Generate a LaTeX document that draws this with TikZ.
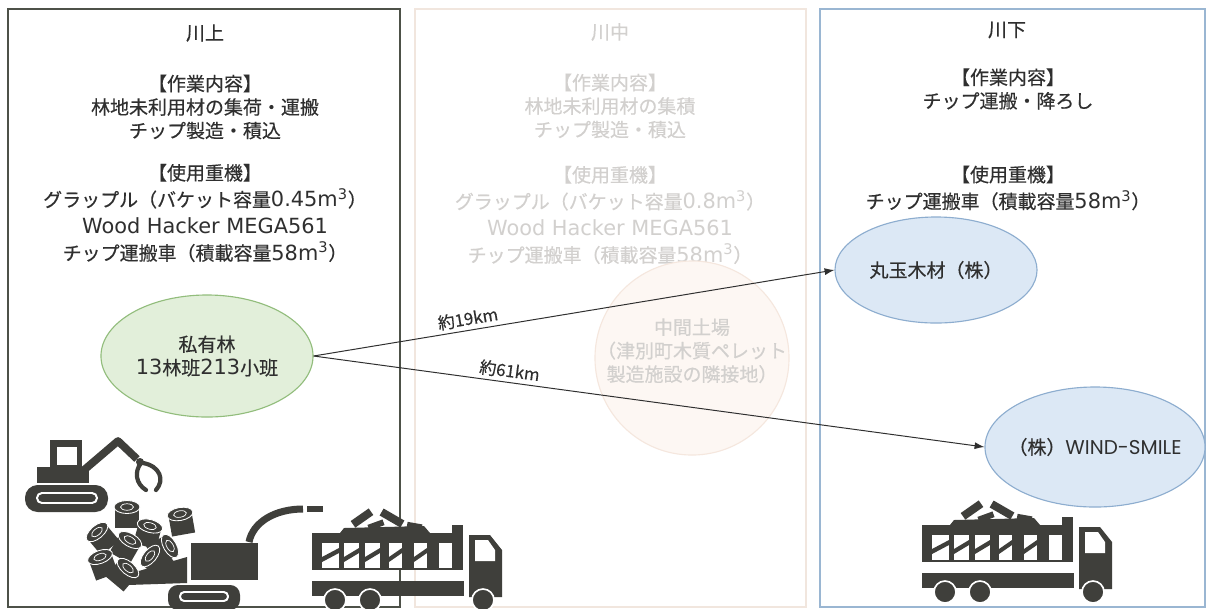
\documentclass[tikz,border=0pt]{standalone}
\usepackage{fontspec}
\setmainfont{Noto Sans CJK JP}[FakeBold=0.35]
\newfontfamily\wide{DejaVu Sans}[Scale=1.1]
\newfontfamily\caps{Poppins}[Scale=1.05]
\usetikzlibrary{shapes.geometric,arrows.meta}

\definecolor{ink}{HTML}{2F2F2F}
\definecolor{mach}{HTML}{3F3F3B}
\definecolor{upline}{HTML}{4D5148}
\definecolor{midline}{HTML}{F1E6DE}
\definecolor{downline}{HTML}{9AB6D2}
\definecolor{fade}{HTML}{D2D0CE}
\definecolor{forestfill}{HTML}{E2EFDA}
\definecolor{forestline}{HTML}{92BD7C}
\definecolor{millfill}{HTML}{DCE8F5}
\definecolor{millline}{HTML}{8DADCF}
\definecolor{yardfill}{HTML}{FDF7F3}
\definecolor{yardline}{HTML}{F5E7DE}

\tikzset{
  % chip truck, origin at the top left corner of the load box
  chiptruck/.pic={
    \fill[mach] (0,0) rectangle (151,-37);
    \foreach \a/\b in {10/27,32/47,53/68,77/90,102/115,127/140}
      \fill[white] (\a,-10) rectangle (\b,-35);
    \foreach \a/\b in {10/27,32/47,53/68,77/90,102/115}
      \fill[mach] (\a,-24) -- (\b,-15) -- (\b,-20) -- (\a,-29) -- cycle;
    \fill[mach] (140,0) rectangle (151,8);
    % heaped load
    \fill[mach] (28,0) -- (32,5) -- (112,7) -- (118,0) -- cycle;
    \fill[mach, rotate around={35:(50,15)}] (39,11) rectangle (61,19);
    \fill[mach, rotate around={-30:(80,15)}] (68,11) rectangle (92,19);
    \fill[mach, rotate around={-10:(102,7)}] (95,4) rectangle (110,10);
    \fill[mach, rotate around={20:(64,8)}] (56,5) rectangle (72,11);
    % cab
    \fill[mach] (157,-2) -- (178,-2) -- (190,-17) -- (190,-64) -- (157,-64) -- cycle;
    \fill[white] (163,-7) -- (176,-7) -- (183,-17) -- (183,-28) -- (163,-28) -- cycle;
    % chassis, wheels
    \fill[mach] (0,-48) rectangle (152,-63);
    \foreach \w in {23,58,171}
      \filldraw[fill=mach, draw=white, line width=1.2pt] (\w,-67) circle (11);
  },
  stump/.pic={
    \fill[mach] (-9,0) -- (-9,-16) -- (9,-16) -- (9,0) -- cycle;
    \filldraw[fill=mach, draw=white, line width=0.6pt] (0,0) ellipse (10 and 5);
    \draw[white, line width=0.5pt] (0,0) ellipse (5 and 2.5);
  }
}

\begin{document}
\begin{tikzpicture}[x=0.025cm, y=0.025cm,
  every node/.style={text=ink},
  head/.style={font=\fontsize{13.5}{16}\selectfont},
  work/.style={align=center, font=\fontsize{13.5}{16.7}\selectfont},
  kit/.style={align=center, font=\fontsize{13.5}{19}\selectfont},
  site/.style={ellipse, line width=0.8pt, inner sep=0pt},
  route/.style={draw=ink, line width=0.7pt, -{Latex[length=7pt,width=5pt]}},
  dist/.style={font=\fontsize{12}{14}\selectfont, sloped, above, inner sep=2.5pt},
  faded/.style={text=fade}]
\useasboundingbox (0,0) rectangle (1209,-608);
\clip (0,0) rectangle (1209,-608);
\fill[white] (0,0) rectangle (1209,-608);

% the three stages
\draw[upline, line width=0.8pt] (8,-9) rectangle (400,-607);
\draw[midline, line width=0.8pt] (415,-9) rectangle (806,-607);
\draw[downline, line width=0.8pt] (820,-9) rectangle (1205,-607);

% upstream
\node[head] (upT) at (205,-33) {川上};
\node[work] (upWork) at (205,-107) {【作業内容】\\林地未利用材の集荷・運搬\\チップ製造・積込};
\node[kit] (upKit) at (205,-213) {【使用重機】\\グラップル（バケット容量{\wide 0.45m\textsuperscript{3}}）\\{\wide Wood Hacker MEGA561}\\チップ運搬車（積載容量{\wide 58m\textsuperscript{3}}）};

% midstream (not used)
\node[head, faded] (midT) at (610,-32) {川中};
\node[work, faded] (midWork) at (610,-106) {【作業内容】\\林地未利用材の集積\\チップ製造・積込};
\node[kit, faded] (midKit) at (610,-215) {【使用重機】\\グラップル（バケット容量{\wide 0.8m\textsuperscript{3}}）\\{\wide Wood Hacker MEGA561}\\チップ運搬車（積載容量{\wide 58m\textsuperscript{3}}）};
\node[circle, minimum size=4.85cm, fill=yardfill, draw=yardline, line width=0.8pt,
  label={[work, faded, yshift=0.18cm]center:{中間土場\\（津別町木質ペレット\\製造施設の隣接地）}}] (yard) at (692,-358) {};

% downstream
\node[head] (downT) at (1007,-30) {川下};
\node[work] (downWork) at (1008,-89) {【作業内容】\\チップ運搬・降ろし};
\node[kit] (downKit) at (1008,-188) {【使用重機】\\チップ運搬車（積載容量{\wide 58m\textsuperscript{3}}）};

% sites
\node[site, minimum width=5.3cm, minimum height=3.05cm, fill=forestfill, draw=forestline,
  label={[work]center:{私有林\\{\wide 13}林班{\wide 213}小班}}] (forest) at (207,-356) {};
\node[site, minimum width=5.05cm, minimum height=2.65cm, fill=millfill, draw=millline,
  label={[head]center:{丸玉木材（株）}}] (maru) at (936,-270) {};
\node[site, minimum width=5.5cm, minimum height=3cm, fill=millfill, draw=millline,
  label={[head]center:{（株）{\caps WIND-SMILE}}}] (wind) at (1095,-447) {};

\draw[route] (forest.east) -- node[dist, pos=.3] (d19) {約19km} (maru.west);
\draw[route] (forest.east) -- node[dist, pos=.29] (d61) {約61km} (wind.west);

% grapple loader
\fill[mach, rounded corners=9pt] (25,-485) rectangle (108,-512);
\draw[white, line width=1.4pt, rounded corners=3.5pt] (37,-493) rectangle (97,-503);
\fill[mach] (37,-467) rectangle (89,-483);
\fill[mach] (50,-440) rectangle (82,-467);
\fill[white] (57,-447) rectangle (77,-465);
\draw[mach, line width=5.5pt, line join=round] (84,-470) -- (118,-441) -- (137,-459);
\draw[mach, line width=3pt, line cap=round] (141,-463) .. controls (134,-472) and (136,-484) .. (146,-490);
\draw[mach, line width=3pt, line cap=round] (143,-463) .. controls (160,-466) and (165,-480) .. (156,-490);
\fill[mach] (140,-462) circle (4);

% chipper
\fill[mach] (125,-575) -- (187,-557) -- (187,-583) -- (128,-585) -- cycle;
\fill[mach] (191,-543) rectangle (258,-580);
\fill[mach, rounded corners=7pt] (168,-585) rectangle (240,-610);
\draw[white, line width=1.4pt, rounded corners=3pt] (180,-592) rectangle (228,-601);
\draw[mach, line width=5pt] (249,-542) .. controls (253,-522) and (275,-509) .. (303,-509);
\fill[mach] (307,-506) rectangle (323,-512);

% logs
\foreach \x/\y/\r in {127/-507/0, 180/-514/10, 150/-526/-15, 97/-532/40, 130/-540/-30,
    170/-546/-60, 100/-557/20, 150/-556/50, 128/-568/-40}
  \pic[rotate=\r, scale=1.3] at (\x,\y) {stump};

% trucks
\pic at (312,-533) {chiptruck};
\pic at (922,-525) {chiptruck};
\end{tikzpicture}
\end{document}
